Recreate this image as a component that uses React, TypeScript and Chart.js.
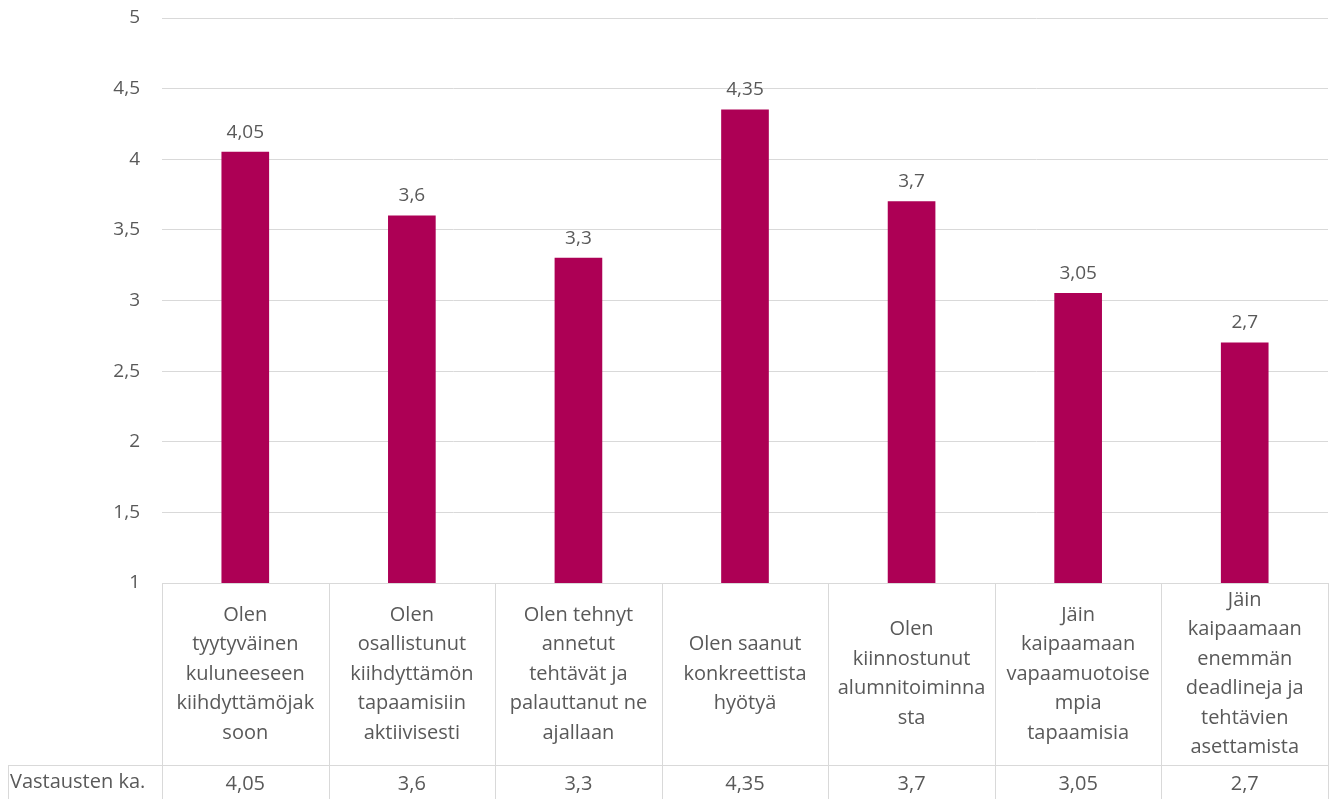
import React, { useEffect, useRef } from "react";
import { Chart, registerables } from "chart.js";

Chart.register(...registerables);

const categories: string[][] = [
  ["Olen", "tyytyväinen", "kuluneeseen", "kiihdyttämöjak", "soon"],
  ["Olen", "osallistunut", "kiihdyttämön", "tapaamisiin", "aktiivisesti"],
  ["Olen tehnyt", "annetut", "tehtävät ja", "palauttanut ne", "ajallaan"],
  ["Olen saanut", "konkreettista", "hyötyä"],
  ["Olen", "kiinnostunut", "alumnitoiminna", "sta"],
  ["Jäin", "kaipaamaan", "vapaamuotoise", "mpia", "tapaamisia"],
  ["Jäin", "kaipaamaan", "enemmän", "deadlineja ja", "tehtävien", "asettamista"],
];
const values: number[] = [4.05, 3.6, 3.3, 4.35, 3.7, 3.05, 2.7];
const seriesName = "Vastausten ka.";
const yMin = 1;
const yMax = 5;
const yStep = 0.5;

const FONT = "'Open Sans', Lato, sans-serif";
const TEXT = "#595959";
const GRID = "#D9D9D9";
const BAR = "#AD0055";

const fmt = (v: number) => String(v).replace(".", ",");

export default function App() {
  const ref = useRef<HTMLCanvasElement | null>(null);
  useEffect(() => {
    if (!ref.current) return;
    const labelsPlugin = {
      id: "barLabels",
      afterDatasetsDraw(chart: any) {
        const ctx = chart.ctx;
        const meta = chart.getDatasetMeta(0);
        ctx.save();
        ctx.font = `19px ${FONT}`;
        ctx.fillStyle = TEXT;
        ctx.textAlign = "center";
        ctx.textBaseline = "middle";
        meta.data.forEach((el: any, i: number) => {
          ctx.fillText(fmt(values[i]), el.x, el.y - 20);
        });
        ctx.restore();
      },
    };
    const tablePlugin = {
      id: "dataTable",
      afterDraw(chart: any) {
        const ctx = chart.ctx;
        const { left, right, bottom } = chart.chartArea;
        const n = categories.length;
        const w = (right - left) / n;
        const H = chart.height;
        const rowY = 765;
        ctx.save();
        ctx.strokeStyle = GRID;
        ctx.lineWidth = 1;
        ctx.beginPath();
        ctx.moveTo(left, Math.round(bottom) + 0.5);
        ctx.lineTo(right, Math.round(bottom) + 0.5);
        for (let i = 0; i <= n; i++) {
          const x = Math.round(left + i * w) + 0.5;
          ctx.moveTo(x, bottom);
          ctx.lineTo(x, H);
        }
        ctx.moveTo(8, rowY + 0.5);
        ctx.lineTo(right, rowY + 0.5);
        ctx.moveTo(8.5, rowY);
        ctx.lineTo(8.5, H);
        ctx.stroke();

        ctx.fillStyle = TEXT;
        ctx.font = `20px ${FONT}`;
        ctx.textAlign = "center";
        ctx.textBaseline = "middle";
        const lh = 29.5;
        const cy = (bottom + rowY) / 2;
        const xs = chart.scales.x;
        categories.forEach((lines, i) => {
          const cx = xs.getPixelForValue(i);
          const y0 = cy - ((lines.length - 1) * lh) / 2;
          lines.forEach((t, j) => ctx.fillText(t, cx, y0 + j * lh));
          ctx.fillText(fmt(values[i]), cx, 784);
        });
        ctx.textAlign = "left";
        ctx.fillText(seriesName, 10, 782);
        ctx.restore();
      },
    };
    const chart = new Chart(ref.current, {
      type: "bar",
      data: {
        labels: categories.map((l) => l.join(" ")),
        datasets: [
          {
            label: seriesName,
            data: values,
            backgroundColor: BAR,
            barThickness: 47,
          },
        ],
      },
      options: {
        animation: false,
        responsive: true,
        maintainAspectRatio: false,
        layout: { padding: { top: 18, bottom: 216, left: 0, right: 5 } },
        plugins: { legend: { display: false }, tooltip: { enabled: false } },
        scales: {
          x: { display: false },
          y: {
            min: yMin,
            max: yMax,
            afterFit: (s: any) => {
              s.width = 162;
            },
            border: { display: false },
            grid: { color: GRID, drawTicks: true, tickLength: 22, tickColor: "rgba(0,0,0,0)", lineWidth: 1 },
            ticks: {
              stepSize: yStep,
              padding: 0,
              color: TEXT,
              font: { family: FONT, size: 19 },
              callback: (v: any) => fmt(Number(v)),
            },
          },
        },
      },
      plugins: [labelsPlugin, tablePlugin],
    });
    return () => chart.destroy();
  }, []);
  return (
    <div style={{ position: "absolute", left: 0, top: 0, width: 1333, height: 799, background: "#fff" }}>
      <canvas ref={ref} />
    </div>
  );
}
